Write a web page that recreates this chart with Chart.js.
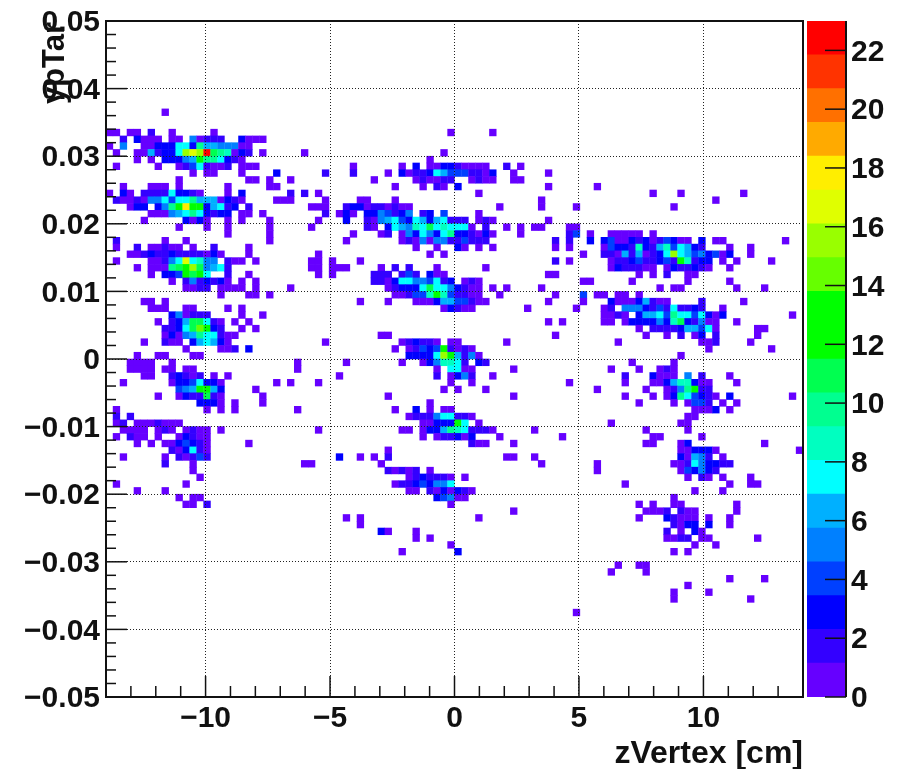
<!DOCTYPE html>
<html>
<head>
<meta charset="utf-8">
<title>ypTar vs zVertex</title>
<script src="https://cdn.jsdelivr.net/npm/chart.js@4/dist/chart.umd.min.js"></script>
<style>
  html, body { margin: 0; padding: 0; background: #fff; }
  #wrap { position: relative; width: 910px; height: 769px; }
  canvas { position: absolute; left: 0; top: 0; }
</style>
</head>
<body>
<div id="wrap">
  <canvas id="hist" width="910" height="769"></canvas>
  <canvas id="palette" width="910" height="769"></canvas>
</div>
<script>
const zBinCount = 100;
const zRange = [-14, 14];
const ypBinCount = 100;
const ypRange = [-0.05, 0.05];
const maxCount = 23;
const zMinorTicks = [-13, -12, -11, -9, -8, -7, -6, -4, -3, -2, -1, 1, 2, 3, 4, 6, 7, 8, 9, 11, 12, 13];
const ypMinorTicks = [-0.048, -0.046, -0.044, -0.042, -0.038, -0.036, -0.034, -0.032, -0.028, -0.026, -0.024, -0.022, -0.018, -0.016, -0.014, -0.012, -0.008, -0.006, -0.004, -0.002, 0.002, 0.004, 0.006, 0.008, 0.012, 0.014, 0.016, 0.018, 0.022, 0.024, 0.026, 0.028, 0.032, 0.034, 0.036, 0.038, 0.042, 0.044, 0.046, 0.048];

// bottom to top, one colour per contour
const paletteColors = [
  "#6600ff", "#3300ff", "#0000ff", "#0040ff", "#0080ff",
  "#00b0ff", "#00ffff", "#00ffc0", "#00ff90", "#00ff50",
  "#00ff00", "#00ff00", "#66ff00", "#99ff00", "#e0ff00",
  "#ffee00", "#ffaa00", "#ff7000", "#ff3300", "#ff0000",
];

// one entry per ypTar bin, top row first. "col" or "col:count", "a-b" for a run of bins
const countRows = [
  "", "", "", "", "", "", "", "", "", "", "", "", "",
  "8",
  "",
  "",
  "0-1 3-4 6:2 9 15 49 55",
  "2:2 4:3 5-7 9-10 12:5 13 14-16:2 19:3 20-22",
  "0 2:5 5-6 7-9:3 10:8 11:7 12:3 13:10 14-15:6 16-18:5 19-20",
  "1 4-5 6:6 7:2 8-9:3 10:8 11:15 12:17 13:15 14:22 15:11 16:10 17:9 18 19:3 20:2 22 28 48",
  "4 6 8-10:3 11:5 12:6 13:13 14:10 15:10 16:7 17:3 18:2 19 46",
  "1 7 10 11:2 12:4 13:8 14:2 15-16 17:2 19-21 35 42 44:3 46-47 48-49:3 50:2 51-54 57:2 59",
  "12 14-15 19 24:3 31:2 35:2 40 42:3 43 44-45:2 46:3 47:7 48:6 49:4 50-51:4 52-53:2 54 55:3 58 63",
  "10 20-21 23 26 38 44 45:2 46-47 48-49:2 52 53:2 54-55 58-59",
  "2 6-8 10 17 23-24 41 45 47:2 48 50:3 63 70",
  "0 2:3 3 5-8:2 9:7 10-11:3 12:2 13 17 19:3 26:2 28:2 30 53 78 82 91",
  "1:2 2-3 4:2 5 6-7:5 8:7 9:4 10-11:8 12:10 13:6 14-15:6 16 17:3 18:2 19 24-26 31 36-37 41 62 87",
  "3 4-5:3 7:3 8:5 9:10 10:13 11:18 12:13 13:12 14:3 15:6 16:8 17:2 18:3 20:2 29-31 34:2 35-36:3 37 38-39:2 40 41:2 42-43 56 62 67 81",
  "6-8 9:5 10:6 11:8 12:10 13:8 14:3 15:2 16-17:3 19-20 22 31:2 33 34:3 35 37-38:3 39:5 40:4 41:2 42:3 43:5 45:2 46:3 48:4 53",
  "5 11:3 12 13:3 14 17 19 23 30 34:3 37:2 38 39:5 40:6 41:7 42:4 43:3 44:8 45:6 46:3 47:6 48:7 49:2 50-51:2 53 54:2 55 63",
  "10 14 17 23 29 37:2 38 40:3 41:8 42:6 43:5 44:9 45:7 46:11 47:7 48:9 49:8 50-51:8 52 54:2 57 59 61-62 66 67",
  "17 23 35 39 40:2 42 43:5 44:3 45:8 46:5 47:3 48:8 49:10 50-51:3 52:2 53 54:3 55 59 66:2 67:4 69 72-76 78",
  "1:2 8 11 23 34 42 43:2 44 45:5 46 47-48:5 49:2 50:2 51:4 52-54:2 64:2 66:2 69:3 71:3 72:4 73-74 75:3 76:2 77:3 78 79:2 80:4 81:3 82-83 85:3 87-88 97",
  "1 4:2 6-7 8:2 9-10 12 15:2 20 44 47 50:3 51 53 55 64 66 71 72:4 73-74:3 75:2 76:9 77:3 78:2 79:6 80:9 81:4 82:7 83:6 84:3 85:2 89 92",
  "3-4 5:2 6:3 7-8:2 9:3 10-13:2 14 15:3 16 20 30 46 48 68 71-72:2 73 74:6 75:2 76:6 77 78:2 79:3 80:8 81:15 82:8 83:6 84:4 85:5 86:3 87:4 88 89:3 92",
  "1 6-7 8:2 9:5 10:7 11:17 12:8 13:9 14-15:5 17:2 18-19 21 29-30 32 36 64:2 66 72 73-74:2 75:3 76:4 77-78:2 79:3 80:4 81:2 82:13 83:9 84:2 85:3 86:3 88 90 95",
  "4 6-8 9:10 10:11 11:13 12:15 13:11 14:5 15:6 16:8 17:2 29-30 32 33 34 39 41:2 43:2 47 54 72 73:3 74-75:2 76:2 77-78 80 81:3 82-83:2 84:3 85:2 86 89",
  "6 8:3 9:3 10:4 11:12 12:11 13:12 14:8 17:2 20 30 32 38-40:2 42:2 43:4 44:2 46:3 47-48 63-64 76 78 80:2 83-84",
  "9 11:2 12:5 13:2 14:3 15:2 16:3 17 19 21 38-39:2 40 41:3 42-43:7 44-45:5 46:4 47:8 48:2 49:3 51 52:2 53 68-69 75 83 89",
  "11-12 13:2 14:2 16-19 21 26 40 41:2 42:3 43-44:3 45:7 46:11 47-48:8 49:5 50:3 51:2 52-53 55 57 62 79 81-82 90 94",
  "16 20-21 23 41-42 43:2 44-45:4 46:9 47:13 48:9 49:4 50-51:2 52-53 56 64 68:4 70-71 73-74 76",
  "5-6 8 36 40 44-45 46 47:3 48-49:6 50-51:4 52:2 53-54 63 68 72:3 73-75 76:3 77:6 78:2 79-80 85:2 91",
  "6-8 11-12 17 19 48 49:3 50:2 51-52 60 67 71 72:2 74-76:5 77:3 78:2 79:4 80:2 81:8 82-83:2 84:3 85:2 88",
  "9:3 10:5 11 12-13:2 14:2 19 22 71-72 73:2 74 76:3 77-78:6 79:8 80:4 81:10 82-83:8 84:4 85:7 86:3 87 88:3 98",
  "7 9:2 10:3 11:6 12-13:11 14:8 15:2 16 18 20 63 65 71-72 74 75-78:3 79:5 80:3 81:9 82:11 83:3 84:2 85:5 86-87 90",
  "8-9:2 10:3 11:8 12:11 13:14 14:13 15:3 16:2 19 21 76 78-81:2 82:3 83-84:6 85:4 86:8 87 93-94",
  "8 9:3 10 11:5 12:6 13:10 14:7 15:7 16:2 17-18 39-40 64 77 80 82:2 84 85:3 87:2 93",
  "5 8:2 9-10 12:3 13:6 14:8 15:6 16:3 17 31 42 43:2 44:3 45-46:2 47 49-50 57 73 85-86 87:2 92",
  "11 16-17 18:2 20:3 41 43 44:2 45:4 46:3 47:4 48:12 49:2 50 51:2 52 86 95",
  "4 7-8 12-13 43-46:3 47:8 48:15 49:13 50:6 51:2 52:5 53 82",
  "3-6 9 27 34 42 45 46:3 47:5 48:9 49:9 50:8 51:2 53:3 54:2 75 81",
  "3-6 8-9 11-12 27 47 49-50:8 51-52 58 72 76 79 80:2 81",
  "5-6 9:2 10:3 11:2 12 13:2 15 17 33 47:2 49 50:3 51:5 52:2 55 74:2 78:3 79-81 83:5 85:2 89",
  "2 9 10:3 11:3 12:4 13:8 14:3 15:3 16 24 26 30 49 52 66 74 78-79 80:3 81:6 82-83:9 84:3 85 86 90",
  "10:4 11:5 12:6 13:12 14:13 15:6 16:3 21 48 50 54 70 77 80 81:2 82:5 83:10 84:13 85:2 86:2",
  "7 10 11:3 12-13:2 14:11 15:2 16 22 40 58 74 78 80 81:3 82:10 83:8 84:4 85:3 86:2 87 89:3 98",
  "13-15:3 16 18 22 46 76 81 83 84-85:4 86:2 88 90",
  "1 14 16 18 27 41 44:3 46 48-49 84-86 87:3 89",
  "1:2 3:2 43 44-46:2 47:5 48-49:8 50-51:2 52 83-84",
  "1 2:2 4-6 7:2 8-10 45-46 47:3 48-49:3 50:12 51:8 53 72 82-83",
  "2-5 7 8:2 9 11 12:2 13-14 16 30 42-43 45 46:3 47:3 48:6 49:10 50:9 51:8 52-54:2 55 61 77 83",
  "1 3:2 4-5 7 10 11:3 12:2 13-14 45 47 48-49:2 50:3 51 52:3 56 65 78-79 85",
  "4 6 8-9 10:3 11:4 12:3 13:2 14 20 52:2 53-54 58 77-78 82 83:3 94",
  "9:2 10 11:3 12:8 13:2 14 40 82-83 84-86:3 87 99",
  "2 8 10:2 11 12:2 13:4 14:2 33:3 36 38 40:2 57-58 61 82:3 83 84:6 85:5 86:2 88",
  "8:2 12 28-29 39 62 70 81-82 83:2 84:8 85:5 86:3 87:3 88-89:2",
  "12 40:2 41 42:2 43 44:2 46 70 82 83:4 84:3 85:5 86:3 87:2",
  "13 43 44:2 45:3 46-48:2 49 51 83 85:2 86 88 92",
  "1 11 41 42-43:2 44:3 45:4 46:3 47-48:5 49:8 74 89 92-93",
  "4 8 43-44 46:2 47 48:3 49 50:3 51:2 52 84 88",
  "10 12-13 47:3 48:4 49:5 50-51 81",
  "11-12 14:2 49 76 78 81-82 90",
  "58 77-79 80:2 82:2 83-84 90",
  "34 36 53 76 80:3 81:2 82-84 86 89",
  "36 81:2 82 83-84:3 86:3 89",
  "39:3 40 44 80:2 82 84:3 85",
  "44 46 80-81 82-83:2 85-86 93",
  "49 84 87",
  "42 50:3 81 83",
  "",
  "73 76-77",
  "72 77",
  "89 94",
  "83",
  "81 86",
  "81 92",
  "",
  "67",
];

const FONT_FAMILY = '"Liberation Sans", Arial, sans-serif';
const tickFont = { family: FONT_FAMILY, size: 30, weight: "bold" };
const titleFont = { family: FONT_FAMILY, size: 32, weight: "bold" };
const contourStep = maxCount / paletteColors.length;
const minus = s => String(s).replace("-", "\u2212");

function buildCells() {
  const zStep = (zRange[1] - zRange[0]) / zBinCount;
  const ypStep = (ypRange[1] - ypRange[0]) / ypBinCount;
  const cells = [];
  countRows.forEach((row, r) => {
    if (!row) return;
    const y = ypRange[1] - (r + 0.5) * ypStep;
    for (const token of row.split(" ")) {
      const [bins, count] = token.split(":");
      const [from, to] = bins.split("-").map(Number);
      for (let c = from; c <= (to ?? from); c++) {
        cells.push({ x: zRange[0] + (c + 0.5) * zStep, y, count: Number(count ?? 1) });
      }
    }
  });
  return cells;
}

function colorFor(count) {
  return paletteColors[Math.min(Math.floor(count / contourStep), paletteColors.length - 1)];
}

// keeps the plot frame where it is in the original, whatever the label sizes are
function fixWidth(width) {
  return scale => { scale.width = width; scale.paddingTop = 0; scale.paddingBottom = 0; };
}

function fixHeight(height) {
  return scale => { scale.height = height; scale.paddingLeft = 0; scale.paddingRight = 0; };
}

function line(ctx, x0, y0, x1, y1, width) {
  ctx.lineWidth = width;
  ctx.beginPath();
  ctx.moveTo(x0, y0);
  ctx.lineTo(x1, y1);
  ctx.stroke();
}

// ROOT style ticks point into the frame, Chart.js only draws them outwards
const histFrame = {
  id: "histFrame",
  afterDraw(chart) {
    const { ctx, chartArea: a, scales: { x, y } } = chart;
    ctx.save();
    ctx.strokeStyle = "#111";
    for (const v of x.ticks.map(t => t.value)) line(ctx, x.getPixelForValue(v), a.bottom, x.getPixelForValue(v), a.bottom - 21, 1.5);
    for (const v of zMinorTicks) line(ctx, x.getPixelForValue(v), a.bottom, x.getPixelForValue(v), a.bottom - 11, 1.5);
    for (const v of y.ticks.map(t => t.value)) line(ctx, a.left, y.getPixelForValue(v), a.left + 21, y.getPixelForValue(v), 1.5);
    for (const v of ypMinorTicks) line(ctx, a.left, y.getPixelForValue(v), a.left + 10, y.getPixelForValue(v), 1.5);
    ctx.lineWidth = 2;
    ctx.strokeRect(a.left, a.top, a.right - a.left, a.bottom - a.top);
    // y title sits on top of the tick labels in the original
    ctx.translate(55, a.top + 1);
    ctx.rotate(-Math.PI / 2);
    ctx.fillStyle = "#111";
    ctx.font = `bold 31px ${FONT_FAMILY}`;
    ctx.textAlign = "right";
    ctx.textBaseline = "middle";
    ctx.fillText("ypTar", 0, 0);
    ctx.restore();
  },
};

const paletteTicks = {
  id: "paletteTicks",
  afterDraw(chart) {
    const { ctx, chartArea: a, scales: { y } } = chart;
    ctx.save();
    ctx.strokeStyle = "#111";
    for (const v of y.ticks.map(t => t.value)) line(ctx, a.right - 21, y.getPixelForValue(v), a.right, y.getPixelForValue(v), 1.5);
    line(ctx, a.right, a.top, a.right, a.bottom, 2);
    ctx.restore();
  },
};

new Chart(document.getElementById("hist"), {
  type: "scatter",
  data: {
    datasets: [{
      data: buildCells(),
      pointStyle: "rect",
      pointRadius: 5.2,
      pointBorderWidth: 0,
      pointBackgroundColor: c => colorFor(c.raw.count),
    }],
  },
  options: {
    responsive: false,
    animation: false,
    events: [],
    layout: { padding: { top: 21, right: 107, left: 0, bottom: 0 } },
    plugins: { legend: { display: false }, title: { display: false }, tooltip: { enabled: false } },
    scales: {
      x: {
        type: "linear",
        min: zRange[0],
        max: zRange[1],
        afterFit: fixHeight(72),
        title: { display: true, text: "zVertex [cm]", align: "end", color: "#111", font: titleFont, padding: { top: 0, bottom: -4 } },
        grid: { z: 1, color: "#222", lineWidth: 1, drawTicks: false },
        border: { display: false, dash: [1, 2] },
        ticks: {
          stepSize: 5,
          includeBounds: false,
          maxRotation: 0,
          padding: 4,
          color: "#111",
          font: tickFont,
          callback: v => minus(v),
        },
      },
      y: {
        type: "linear",
        min: ypRange[0],
        max: ypRange[1],
        afterFit: fixWidth(106),
        grid: { z: 1, color: "#222", lineWidth: 1, drawTicks: false },
        border: { display: false, dash: [1, 2] },
        ticks: {
          stepSize: 0.01,
          padding: 6,
          labelOffset: 2,
          color: "#111",
          font: tickFont,
          callback: v => minus(Math.abs(v) < 1e-9 ? 0 : v.toFixed(2)),
        },
      },
    },
  },
  plugins: [histFrame],
});

new Chart(document.getElementById("palette"), {
  type: "bar",
  data: {
    labels: ["count"],
    datasets: paletteColors.map(color => ({
      data: [contourStep],
      backgroundColor: color,
      borderWidth: 0,
      barPercentage: 1,
      categoryPercentage: 1,
    })),
  },
  options: {
    responsive: false,
    animation: false,
    events: [],
    layout: { padding: { top: 21, left: 807, right: 0, bottom: 72 } },
    plugins: { legend: { display: false }, title: { display: false }, tooltip: { enabled: false } },
    scales: {
      x: { stacked: true, display: false },
      y: {
        stacked: true,
        position: "right",
        min: 0,
        max: maxCount,
        afterFit: fixWidth(64),
        grid: { display: false, drawTicks: false },
        border: { display: false },
        ticks: { stepSize: 2, includeBounds: false, padding: 5, labelOffset: 2, color: "#111", font: tickFont },
      },
    },
  },
  plugins: [paletteTicks],
});
</script>
</body>
</html>
